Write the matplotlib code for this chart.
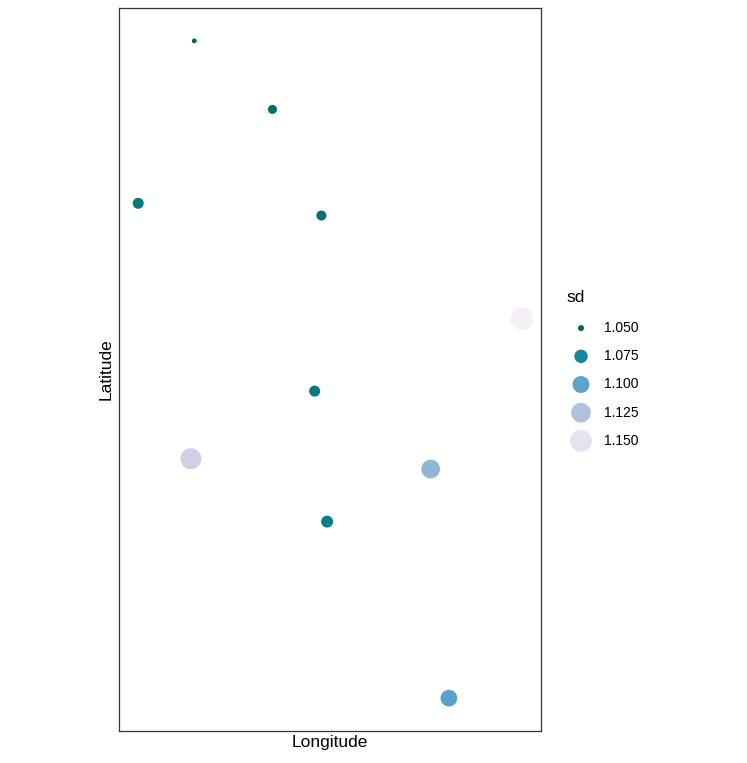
import numpy as np
import matplotlib
matplotlib.use("Agg")
import matplotlib.pyplot as plt
from matplotlib.colors import LinearSegmentedColormap

plt.rcParams['font.family'] = ['Liberation Sans', 'DejaVu Sans']

# sampled sites
lon = [-96.415, -95.60, -97.00, -95.09, -93.00, -95.16, -96.45, -93.95, -95.03, -93.76]
lat = [45.00, 44.27, 43.27, 43.14, 42.04, 41.27, 40.55, 40.44, 39.88, 38.00]
sd = [1.0495, 1.0556, 1.0627, 1.0588, 1.158, 1.0627, 1.139, 1.1155, 1.067, 1.098]

legend_breaks = [1.050, 1.075, 1.100, 1.125, 1.150]

# reversed PuBuGn, like scale_colour_distiller
pubugn = ['#016450', '#02818a', '#3690c0', '#67a9cf', '#a6bddb', '#d0d1e6', '#f6eff7']
cmap = LinearSegmentedColormap.from_list('pubugn_r', pubugn)

sd = np.array(sd)
lo, hi = sd.min(), sd.max()

def gg_size(v):
    # ggplot area scale, range 1..6
    x = np.clip((np.asarray(v) - lo) / (hi - lo), 0, 1)
    s = 1 + 5 * np.sqrt(x)
    d = (s * 2.845 + 0.945) * 0.905   # diameter in points
    return d ** 2

def gg_col(v):
    return cmap(np.clip((np.asarray(v) - lo) / (hi - lo), 0, 1))

W, H = 747, 763
fig = plt.figure(figsize=(W / 100, H / 100), dpi=100)
ax = fig.add_axes([119 / W, (H - 731) / H, 422 / W, 723 / H])

ax.scatter(lon, lat, s=gg_size(sd), c=gg_col(sd), linewidths=0, zorder=3)
ax.margins(0.05)
ax.set_xticks([])
ax.set_yticks([])
for sp in ax.spines.values():
    sp.set_color('#333333')
    sp.set_linewidth(0.9)
ax.set_xlabel("Longitude", fontsize=12.5, labelpad=3)
ax.set_ylabel("Latitude", fontsize=12.5, labelpad=4)

# legend
lax = fig.add_axes([571 / W, (H - 455) / H, 20 / W, 141 / H])
lax.set_xlim(-1, 1)
lax.set_ylim(4.5, -0.5)
lax.axis('off')
yy = np.arange(len(legend_breaks))
lax.scatter(np.zeros(len(yy)), yy, s=gg_size(legend_breaks), c=gg_col(legend_breaks),
            linewidths=0, clip_on=False)
for i, b in enumerate(legend_breaks):
    lax.text(2.3, i, "%.3f" % b, fontsize=10, va='center', ha='left', clip_on=False)
lax.text(-1.5, -1.1, "sd", fontsize=12.5, va='center', ha='left', clip_on=False)

fig.savefig("out.png", dpi=100)
